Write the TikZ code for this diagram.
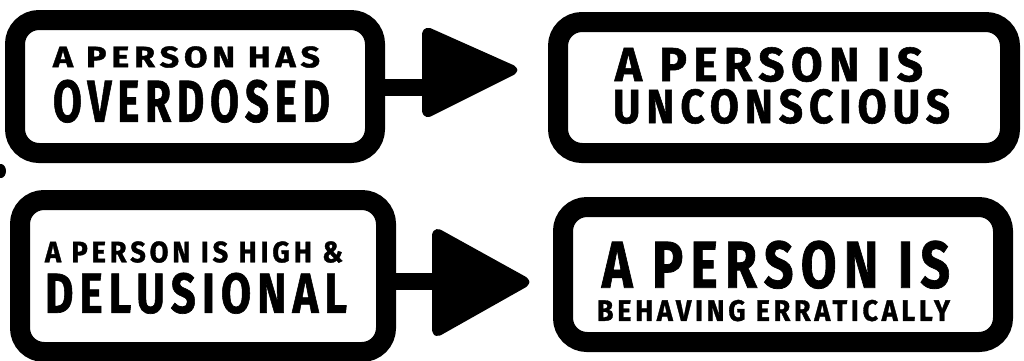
\documentclass[tikz,border=0pt]{standalone}
\usepackage{fontspec}
\setmainfont{Fira Sans}
\usepackage{graphicx}
% one line of lettering, stretched to a given width and cap height
\newcommand\fitline[3]{\resizebox{#1pt}{#2pt}{\addfontfeature{LetterSpace=14,FakeBold=1.2}#3}}
\begin{document}
\begin{tikzpicture}[x=1pt,y=-1pt,
  card/.style={draw=black, line width=20pt, rounded corners=24pt,
    fill=white, inner sep=0pt},
  lbl/.style={inner sep=0pt, font=\bfseries, text=black, align=center},
  shaft/.style={draw=black, line width=17pt},
  head/.style={fill=black, draw=black, line width=6pt, line join=round,
    rounded corners=5pt}]
\useasboundingbox (0,0) rectangle (1024,360);
\fill[white] (0,0) rectangle (1024,360);

% boxes
\node[card, minimum width=360pt, minimum height=133pt] (b1) at (195,86.5) {};
\node[card, minimum width=452pt, minimum height=131pt] (b2) at (784,87.5) {};
\node[card, minimum width=366pt, minimum height=152pt] (b3) at (203,276) {};
\node[card, minimum width=440pt, minimum height=135pt] (b4) at (783,274.5) {};

% lettering
\node[lbl] (t1) at (191.5,84.5)
  {\fitline{267}{21}{A PERSON HAS}\hspace*{10pt}\\[11pt]\fitline{277}{42}{OVERDOSED}};
\node[lbl] (t2) at (781.5,85.5)
  {\fitline{308}{34}{A PERSON IS}\hspace*{25pt}\\[6pt]\fitline{337}{34}{UNCONSCIOUS}};
\node[lbl] (t3) at (196,277.5)
  {\fitline{298}{21}{A PERSON IS HIGH \&}\hspace*{4pt}\\[9pt]\fitline{302}{40}{DELUSIONAL}};
\node[lbl] (t4) at (773.5,281)
  {\fitline{348}{47}{A PERSON IS}\hspace*{-5pt}\\[10pt]\fitline{353}{21}{BEHAVING ERRATICALLY}};

% upper arrow
\coordinate (a1top) at (425,29);
\coordinate (a1bot) at (425,116);
\coordinate (a1tip) at (517,70);
\coordinate (a1base) at (432,87);
\draw[shaft] (a1base -| b1.east) -- (a1base);
\path[head] (a1top) -- (a1tip) -- (a1bot) -- cycle;

% lower arrow
\coordinate (a2top) at (435,230);
\coordinate (a2bot) at (435,335);
\coordinate (a2tip) at (529,282);
\coordinate (a2base) at (442,281);
\draw[shaft] (a2base -| b3.east) -- (a2base);
\path[head] (a2top) -- (a2tip) -- (a2bot) -- cycle;

% ink mark at the left edge
\fill[black] (1,171) ellipse [x radius=5pt, y radius=7pt];
\end{tikzpicture}
\end{document}
